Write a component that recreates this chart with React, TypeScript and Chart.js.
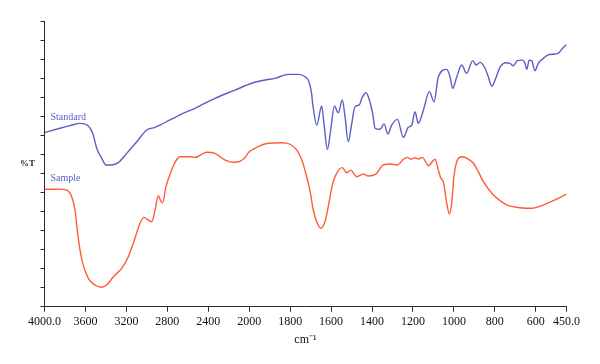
import React, { useEffect, useRef } from 'react';
import { Chart, registerables } from 'chart.js';

Chart.register(...registerables);

// X axis: wavenumbers (cm-1), scale changes at 2000 cm-1
const xTickValues = [4000, 3600, 3200, 2800, 2400, 2000, 1800, 1600, 1400, 1200, 1000, 800, 600, 450];
const xTickLabels = ['4000.0', '3600', '3200', '2800', '2400', '2000', '1800', '1600', '1400', '1200', '1000', '800', '600', '450.0'];
const yTickValues = [0, 1, 2, 3, 4, 5, 6, 7, 8, 9, 10, 11, 12, 13, 14, 15];

const standardWavenumbers = [
  4000, 3849, 3751, 3654, 3572, 3529, 3490, 3441, 3399, 3343, 3279, 3197, 3099, 3001, 2920, 2871, 2774, 2725, 2676,
  2530, 2334, 2204, 2138, 1988, 1923, 1874, 1809, 1760, 1727, 1708, 1695, 1690, 1670, 1646, 1635, 1618, 1602, 1584,
  1565, 1545, 1532, 1516, 1499, 1483, 1462, 1450, 1429, 1413, 1397, 1385, 1361, 1341, 1323, 1304, 1276, 1247, 1223,
  1206, 1190, 1174, 1149, 1120, 1097, 1076, 1035, 1019, 1006, 986, 962, 938, 908, 892, 872, 848, 832, 815, 799, 775,
  745, 726, 710, 690, 664, 653, 644, 632, 620, 604, 588, 563, 539, 506, 490, 473, 450,
];
const standardValues = [
  9.16, 9.39, 9.53, 9.65, 9.51, 9.13, 8.34, 7.81, 7.46, 7.46, 7.58, 8.07, 8.68, 9.3, 9.44, 9.56, 9.83, 9.95, 10.1,
  10.44, 10.97, 11.26, 11.4, 11.76, 11.93, 12.02, 12.23, 12.23, 12.1, 11.84, 11.2, 10.7, 9.56, 10.56, 9.65, 8.28, 9.3, 10.56,
  10.21, 10.88, 10.0, 8.68, 9.65, 10.53, 10.62, 10.97, 11.26, 10.88, 10.18, 9.39, 9.34, 9.62, 9.09, 9.56, 9.86, 8.92, 9.44,
  9.56, 10.26, 9.65, 10.35, 11.32, 10.79, 12.1, 12.49, 12.1, 11.49, 12.1, 12.72, 12.28, 12.95, 12.72, 12.86, 12.55, 12.1, 11.6, 11.93, 12.6,
  12.84, 12.81, 12.68, 12.95, 12.98, 12.81, 12.49, 12.98, 12.95, 12.42, 12.81, 13.07, 13.25, 13.3, 13.34, 13.55, 13.8,
];

const sampleWavenumbers = [
  4000, 3849, 3783, 3734, 3702, 3680, 3653, 3621, 3572, 3507, 3441, 3392, 3327, 3246, 3181, 3116, 3067, 3028, 2986, 2952,
  2920, 2888, 2865, 2846, 2813, 2758, 2725, 2676, 2562, 2530, 2416, 2334, 2236, 2138, 2041, 2009, 1956, 1907, 1841, 1801,
  1768, 1743, 1719, 1703, 1687, 1667, 1649, 1630, 1614, 1592, 1573, 1545, 1524, 1504, 1475, 1443, 1418, 1381, 1345, 1312,
  1276, 1247, 1228, 1211, 1190, 1174, 1154, 1125, 1092, 1076, 1064, 1052, 1035, 1022, 1011, 1000, 986, 962, 930, 905,
  881, 856, 815, 775, 734, 677, 620, 563, 506, 450,
];
const sampleValues = [
  6.18, 6.19, 6.14, 5.79, 5.09, 4.04, 2.98, 2.19, 1.49, 1.14, 1.02, 1.14, 1.58, 2.02, 2.63, 3.6, 4.39, 4.7, 4.56, 4.47,
  5.09, 5.84, 5.58, 5.47, 6.32, 7.19, 7.6, 7.89, 7.89, 7.86, 8.13, 8.07, 7.72, 7.6, 7.84, 8.1, 8.42, 8.6, 8.63, 8.55,
  8.25, 7.72, 6.84, 6.1, 5.09, 4.39, 4.13, 4.47, 5.26, 6.49, 7.02, 7.32, 7.05, 7.19, 6.84, 6.98, 6.88, 6.98, 7.46, 7.51,
  7.46, 7.76, 7.86, 7.76, 7.84, 7.77, 7.86, 7.42, 7.76, 7.19, 6.76, 6.58, 5.44, 4.88, 5.44, 6.84, 7.63, 7.89, 7.77, 7.55,
  7.11, 6.58, 5.97, 5.58, 5.32, 5.21, 5.18, 5.35, 5.62, 5.93,
];

const seriesNames = ['Standard', 'Sample'];
const labelValues = [9.98, 6.77];
const yAxisTitle = '%T';
const yAxisTitleValue = 7.55;
const xAxisTitle = 'cm\u207B\u00B9';

const BLUE = '#5a5fc2';
const RED = '#ff5b3a';
const AXIS = '#2a2a2a';
const FONT = '"Liberation Serif", "Times New Roman", serif';

// Piecewise-linear wavenumber axis: 4000-2000 compressed 2x relative to 2000-450
const BREAK = 2000;
function toAxis(w: number): number {
  return w >= BREAK ? (4000 - w) / 2 : (4000 - BREAK) / 2 + (BREAK - w);
}

const textPlugin = {
  id: 'ftirText',
  afterDraw(chart: any) {
    const { ctx, chartArea, scales } = chart;
    const y = scales.y;
    ctx.save();
    ctx.textBaseline = 'middle';
    ctx.textAlign = 'left';
    ctx.font = `10px ${FONT}`;
    ctx.fillStyle = BLUE;
    seriesNames.forEach((name, i) => {
      ctx.fillText(name, chartArea.left + 6, y.getPixelForValue(labelValues[i]));
    });
    ctx.textAlign = 'center';
    ctx.font = `bold 9px ${FONT}`;
    ctx.fillStyle = AXIS;
    ctx.fillText(yAxisTitle, chartArea.left - 17, y.getPixelForValue(yAxisTitleValue));
    ctx.restore();
  },
};

export default function App() {
  const canvasRef = useRef<HTMLCanvasElement | null>(null);

  useEffect(() => {
    if (!canvasRef.current) return;
    const chart = new Chart(canvasRef.current, {
      type: 'line',
      data: {
        datasets: [
          {
            label: seriesNames[0],
            data: standardWavenumbers.map((w, i) => ({ x: toAxis(w), y: standardValues[i] })),
            borderColor: BLUE,
            borderWidth: 1.4,
            pointRadius: 0,
            cubicInterpolationMode: 'monotone',
            fill: false,
          },
          {
            label: seriesNames[1],
            data: sampleWavenumbers.map((w, i) => ({ x: toAxis(w), y: sampleValues[i] })),
            borderColor: RED,
            borderWidth: 1.4,
            pointRadius: 0,
            cubicInterpolationMode: 'monotone',
            fill: false,
          },
        ],
      },
      options: {
        animation: false,
        responsive: true,
        maintainAspectRatio: false,
        layout: { padding: { left: 0, right: 33.5, top: 21.7, bottom: 0 } },
        plugins: { legend: { display: false }, tooltip: { enabled: false } },
        scales: {
          x: {
            type: 'linear',
            min: toAxis(4000),
            max: toAxis(450),
            afterBuildTicks: (scale: any) => {
              scale.ticks = xTickValues.map((w) => ({ value: toAxis(w) }));
            },
            afterFit: (scale: any) => {
              scale.height = 57.3;
            },
            ticks: {
              autoSkip: false,
              maxRotation: 0,
              padding: 3,
              color: '#111',
              font: { family: FONT, size: 12 },
              callback: (_v: any, index: number) => xTickLabels[index],
            },
            grid: { drawOnChartArea: false, drawTicks: true, tickLength: 5, color: AXIS },
            border: { display: true, color: AXIS, width: 1 },
            title: {
              display: true,
              text: xAxisTitle,
              color: '#111',
              font: { family: FONT, size: 12 },
              padding: { top: 0, bottom: 17 },
            },
          },
          y: {
            type: 'linear',
            min: yTickValues[0],
            max: yTickValues[yTickValues.length - 1],
            afterBuildTicks: (scale: any) => {
              scale.ticks = yTickValues.map((v) => ({ value: v }));
            },
            afterFit: (scale: any) => {
              scale.width = 44.5;
            },
            ticks: { display: false },
            grid: { drawOnChartArea: false, drawTicks: true, tickLength: 4, color: AXIS },
            border: { display: true, color: AXIS, width: 1 },
          },
        },
      },
      plugins: [textPlugin],
    } as any);
    return () => chart.destroy();
  }, []);

  return (
    <div style={{ position: 'absolute', left: 0, top: 0, width: 600, height: 364, background: '#fff' }}>
      <canvas ref={canvasRef} />
    </div>
  );
}
